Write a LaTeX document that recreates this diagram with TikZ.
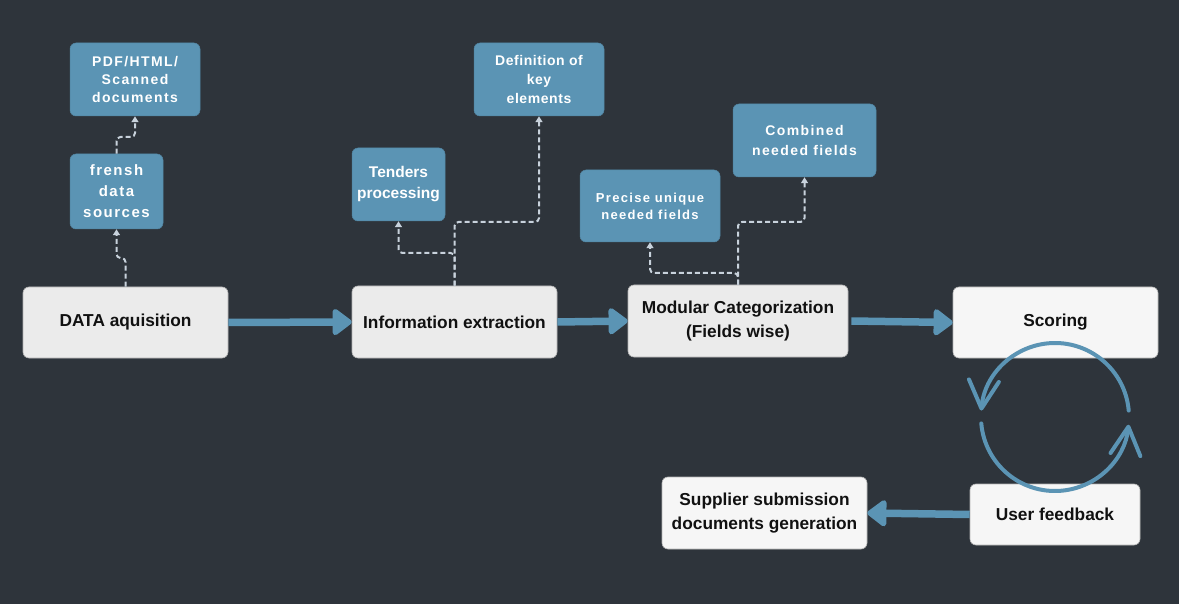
\documentclass[tikz,border=0pt]{standalone}
\usepackage{fontspec}
\setmainfont{Liberation Sans}
\newfontfamily\trk[LetterSpace=10]{Liberation Sans}
\newfontfamily\trs[LetterSpace=4]{Liberation Sans}
\usetikzlibrary{arrows.meta}
\definecolor{bg}{HTML}{2E343B}
\definecolor{bluebox}{HTML}{5B94B4}
\definecolor{lightbox}{HTML}{EBEBEB}
\definecolor{lighterbox}{HTML}{F6F6F6}
\definecolor{dashc}{HTML}{C8D2DC}
\definecolor{ink}{HTML}{111111}
\begin{document}
\begin{tikzpicture}[x=1pt,y=-1pt,
  mainbox/.style={rectangle, rounded corners=6pt, fill=lightbox, draw=gray!60, line width=0.6pt,
    text=ink, align=center, inner sep=0pt, font=\fontsize{17.3}{23.5}\selectfont\bfseries},
  subbox/.style={rectangle, rounded corners=6pt, fill=bluebox, draw=bluebox!90!black, line width=0.5pt,
    text=white, align=center, inner sep=0pt},
  flow/.style={draw=bluebox, line width=7.5pt, -{Triangle[length=21pt,width=30pt,round]}},
  aux/.style={draw=dashc, line width=2pt, dash pattern=on 5pt off 3pt, rounded corners=4pt,
    -{Triangle[length=6pt,width=7pt]}},
  loopline/.style={draw=bluebox, line width=4pt, line cap=round,
    -{Straight Barb[length=28pt,width=30pt,round]}}
]
\fill[bg] (0,0) rectangle (1179,604);
\useasboundingbox (0,0) rectangle (1179,604);

% main boxes
\node[mainbox, minimum width=205pt, minimum height=71pt] (data) at (125.5,322.5) {DATA aquisition};
\node[mainbox, minimum width=205pt, minimum height=72pt] (info) at (454.5,322) {Information extraction};
\node[mainbox, minimum width=220pt, minimum height=72pt] (modu) at (738,321) {Modular Categorization\\(Fields wise)};
\node[mainbox, fill=lighterbox, minimum width=205pt, minimum height=71pt] (scor) at (1055.5,322.5) {Scoring};
\node[mainbox, fill=lighterbox, minimum width=170pt, minimum height=61pt] (user) at (1055,514.5) {User feedback};
\node[mainbox, fill=lighterbox, minimum width=205pt, minimum height=72pt] (supp) at (764.5,513) {Supplier submission\\documents generation};

% sub boxes
\node[subbox, minimum width=93pt, minimum height=75pt, font=\trk\fontsize{15}{21}\selectfont\bfseries] (fresh) at (116.5,191.5) {frensh\\data\\sources};
\node[subbox, minimum width=130pt, minimum height=73pt, font=\trk\fontsize{14}{18}\selectfont\bfseries] (pdf) at (135,79.5) {PDF/HTML/\\Scanned\\documents};
\node[subbox, minimum width=93pt, minimum height=73pt, font=\fontsize{15.5}{21}\selectfont\bfseries] (tend) at (398.5,184.5) {Tenders\\processing};
\node[subbox, minimum width=130pt, minimum height=73pt, font=\trs\fontsize{14}{19}\selectfont\bfseries] (defn) at (539,79.5) {Definition of\\key\\elements};
\node[subbox, minimum width=140pt, minimum height=72pt, font=\trk\fontsize{13}{17}\selectfont\bfseries] (prec) at (650,206) {Precise unique\\needed fields};
\node[subbox, minimum width=143pt, minimum height=73pt, font=\trk\fontsize{14}{20}\selectfont\bfseries] (comb) at (804.5,140.5) {Combined\\needed fields};

% dashed connectors
\draw[aux] (data.north) -- (125.5,258) -- (116.5,258) -- (fresh.south);
\draw[aux] (fresh.north) -- (116.5,137) -- (135,137) -- (pdf.south);
\draw[aux] (info.north) -- (454.5,253) -- (398.5,253) -- (tend.south);
\draw[aux] (info.north) -- (454.5,222) -- (539,222) -- (defn.south);
\draw[aux] (modu.north) -- (738,273) -- (650,273) -- (prec.south);
\draw[aux] (modu.north) -- (738,222) -- (804.5,222) -- (comb.south);

% flow arrows
\draw[flow] (data.east) -- (info.west);
\draw[flow] (info.east) -- (modu.west);
\draw[flow] ([xshift=3pt]modu.east) -- (scor.west);
\draw[flow] (user.west) -- (supp.east);

% feedback loop
\coordinate (cc) at (1055,417);
\draw[loopline] (cc) ++(-5:74) arc[start angle=-5, end angle=-175, radius=74];
\draw[loopline] (cc) ++(175:74) arc[start angle=175, end angle=6, radius=74];
\end{tikzpicture}
\end{document}
